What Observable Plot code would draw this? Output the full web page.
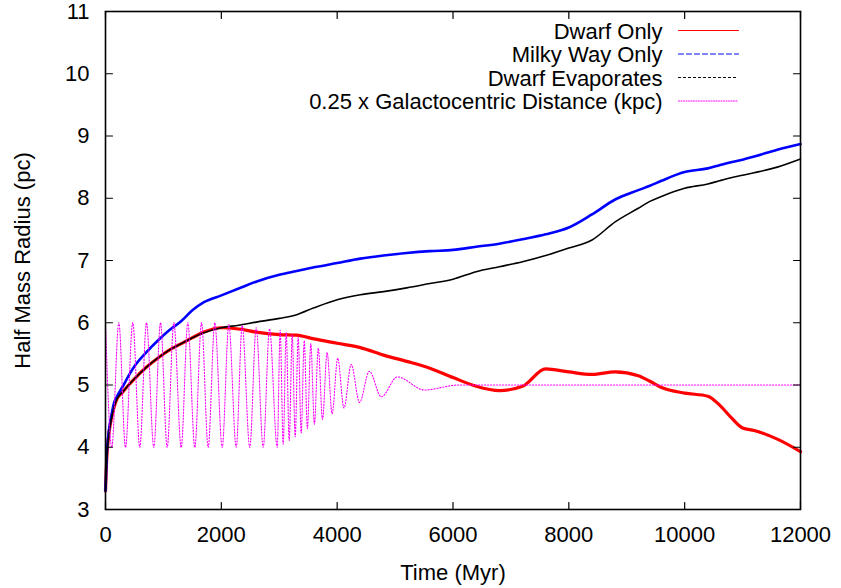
<!DOCTYPE html>
<html><head><meta charset="utf-8">
<script src="https://cdn.jsdelivr.net/npm/d3@7"></script>
<script src="https://cdn.jsdelivr.net/npm/@observablehq/plot@0.6"></script>
<style>body{margin:0;background:#fff;}</style>
</head><body><div id="chart"></div>
<script>
// Time grid (Myr) for the three half-mass-radius runs
const times = [0, 20, 50, 100, 150, 200, 300, 400, 500, 700, 900, 1100, 1300, 1500, 1700, 2000, 2300, 2600, 3000, 3300, 3600, 4000, 4400, 4800, 5200, 5600, 6000, 6400, 6800, 7200, 7600, 8000, 8400, 8800, 9200, 9400, 9600, 10000, 10400, 10600, 10800, 11000, 11200, 11600, 12000];
const dwarfOnly = [3.3, 3.8, 4.15, 4.45, 4.65, 4.78, 4.89, 5.0, 5.1, 5.28, 5.43, 5.56, 5.66, 5.76, 5.85, 5.92, 5.90, 5.85, 5.81, 5.80, 5.74, 5.67, 5.60, 5.48, 5.38, 5.27, 5.12, 4.98, 4.91, 4.98, 5.26, 5.21, 5.17, 5.21, 5.15, 5.06, 4.96, 4.87, 4.82, 4.68, 4.48, 4.31, 4.27, 4.13, 3.93];
const milkyWayOnly = [3.3, 3.85, 4.2, 4.5, 4.72, 4.82, 4.98, 5.15, 5.3, 5.52, 5.71, 5.88, 6.02, 6.2, 6.33, 6.44, 6.55, 6.66, 6.77, 6.83, 6.89, 6.96, 7.03, 7.08, 7.12, 7.15, 7.17, 7.22, 7.27, 7.34, 7.42, 7.53, 7.74, 7.98, 8.13, 8.2, 8.28, 8.42, 8.48, 8.53, 8.58, 8.62, 8.67, 8.78, 8.87];
const dwarfEvaporates = [3.3, 3.8, 4.15, 4.45, 4.65, 4.78, 4.89, 5.0, 5.1, 5.28, 5.43, 5.56, 5.66, 5.76, 5.84, 5.92, 5.96, 6.01, 6.07, 6.13, 6.24, 6.37, 6.45, 6.50, 6.56, 6.63, 6.70, 6.82, 6.9, 6.98, 7.08, 7.2, 7.33, 7.62, 7.84, 7.95, 8.03, 8.16, 8.23, 8.28, 8.33, 8.37, 8.41, 8.5, 8.63];

// 0.25 x galactocentric distance: turning points of the orbit
const distTimes = [0, 108, 230, 345, 471, 592, 708, 834, 950, 1065, 1180, 1307, 1421, 1542, 1658, 1773, 1887, 2015, 2129, 2257, 2360, 2491, 2602, 2723, 2832, 2965, 3016, 3068, 3120, 3172, 3224, 3275, 3327, 3379, 3431, 3486, 3545, 3607, 3674, 3747, 3826, 3913, 4009, 4118, 4242, 4386, 4555, 4762, 5038, 5508, 6100, 12000];
const distQuarter = [6, 4, 6, 4, 6, 4, 6, 4, 6, 4, 6, 4, 6, 4, 6, 4, 6, 4, 5.97, 4, 5.95, 4, 5.92, 4, 5.9, 4, 5.88, 4.05, 5.84, 4.11, 5.80, 4.17, 5.76, 4.23, 5.71, 4.30, 5.66, 4.37, 5.59, 4.45, 5.52, 4.54, 5.43, 4.63, 5.33, 4.72, 5.22, 4.81, 5.13, 4.92, 5.0, 5.0];

const xTicks = [0, 2000, 4000, 6000, 8000, 10000, 12000];
const yTicks = [3, 4, 5, 6, 7, 8, 9, 10, 11];
const seriesNames = ["Dwarf Only", "Milky Way Only", "Dwarf Evaporates", "0.25 x Galactocentric Distance (kpc)"];
const seriesColors = ["#ff0000", "#0000ff", "#000000", "#ff00ff"];
const seriesDash = [null, "5,3", "2,3", "1,1.5"];

const toRows = (ts, vs) => ts.map((t, i) => ({t, v: vs[i]}));

const lineShape = {draw(ctx, l) { ctx.moveTo(0, 0); ctx.lineTo(0, -l); }};

const legendDy = [20, 43.5, 67, 90.5];
const legendMarks = seriesNames.flatMap((name, i) => [
  Plot.text([name], {frameAnchor: "top-right", dx: -138, dy: legendDy[i], textAnchor: "end", lineAnchor: "middle", fill: "#000"}),
  Plot.vector([name], {frameAnchor: "top-right", dx: -122, dy: legendDy[i] - 1, rotate: 90, length: 60, anchor: "start", shape: lineShape, stroke: seriesColors[i], strokeWidth: i === 3 ? 1 : 1.2, strokeDasharray: seriesDash[i]})
]);

const chart = Plot.plot({
  width: 841, height: 588,
  marginLeft: 105, marginRight: 41, marginTop: 11, marginBottom: 79,
  style: {fontFamily: "'Liberation Sans', Arial, Helvetica, sans-serif", fontSize: "22px", color: "#000", background: "#fff"},
  x: {domain: [0, 12000]},
  y: {domain: [3, 11]},
  marks: [
    Plot.line(toRows(times, dwarfOnly), {x: "t", y: "v", stroke: seriesColors[0], strokeWidth: 3.2, curve: "monotone-x"}),
    Plot.line(toRows(times, milkyWayOnly), {x: "t", y: "v", stroke: seriesColors[1], strokeWidth: 2.6, curve: "monotone-x"}),
    Plot.line(toRows(times, dwarfEvaporates), {x: "t", y: "v", stroke: seriesColors[2], strokeWidth: 1.6, curve: "monotone-x"}),
    Plot.line(toRows(distTimes, distQuarter), {x: "t", y: "v", stroke: seriesColors[3], strokeWidth: 1.1, strokeDasharray: "1.2,1.8", curve: "monotone-x"}),
    // inward ticks on all four sides
    Plot.vector(xTicks, {x: d => d, y: 3, length: 7, rotate: 0, anchor: "start", shape: lineShape, stroke: "#000", strokeWidth: 1.2}),
    Plot.vector(xTicks, {x: d => d, y: 11, length: 7, rotate: 180, anchor: "start", shape: lineShape, stroke: "#000", strokeWidth: 1.2}),
    Plot.vector(yTicks, {x: 0, y: d => d, length: 7, rotate: 90, anchor: "start", shape: lineShape, stroke: "#000", strokeWidth: 1.2}),
    Plot.vector(yTicks, {x: 12000, y: d => d, length: 7, rotate: 270, anchor: "start", shape: lineShape, stroke: "#000", strokeWidth: 1.2}),
    Plot.axisX(xTicks, {tickSize: 0, tickPadding: 17, label: null, tickFormat: d => String(d)}),
    Plot.axisY(yTicks, {tickSize: 0, tickPadding: 16, label: null, tickFormat: d => String(d)}),
    Plot.frame({stroke: "#000", strokeWidth: 1.6}),
    Plot.text(["Time (Myr)"], {frameAnchor: "bottom", dy: 63, textAnchor: "middle", lineAnchor: "middle", fill: "#000"}),
    Plot.text(["Half Mass Radius (pc)"], {frameAnchor: "left", dx: -83, rotate: -90, textAnchor: "middle", lineAnchor: "middle", fill: "#000"}),
    ...legendMarks
  ]
});
document.getElementById("chart").appendChild(chart);
</script>
</body></html>
